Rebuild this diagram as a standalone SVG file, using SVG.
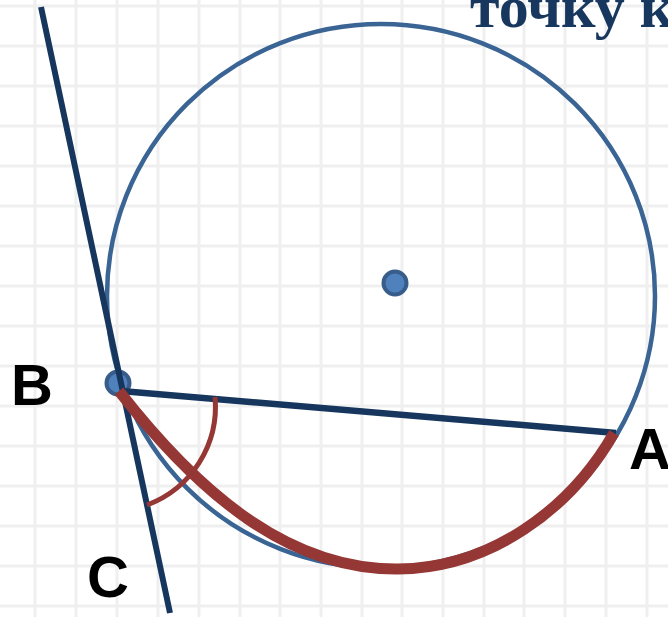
<svg xmlns="http://www.w3.org/2000/svg" width="668" height="617" viewBox="0 0 668 617">
<style>
.grid line{stroke:#efefef;stroke-width:3}
.navy{stroke:#17365d;stroke-linecap:butt;fill:none}
.red{stroke:#953735;fill:none;stroke-linecap:butt}
.lbl{font-family:"Liberation Sans",Arial,sans-serif;font-weight:bold;font-size:58px;fill:#000}
.dot{fill:#4f81bd;stroke:#385d8a;stroke-width:4}
</style>
<rect width="668" height="617" fill="#fff"/>
<g class="grid">
<line x1="35" y1="0" x2="35" y2="617"/><line x1="76" y1="0" x2="76" y2="617"/><line x1="117" y1="0" x2="117" y2="617"/><line x1="158" y1="0" x2="158" y2="617"/><line x1="199" y1="0" x2="199" y2="617"/><line x1="240" y1="0" x2="240" y2="617"/><line x1="280" y1="0" x2="280" y2="617"/><line x1="321" y1="0" x2="321" y2="617"/><line x1="362" y1="0" x2="362" y2="617"/><line x1="402" y1="0" x2="402" y2="617"/><line x1="443" y1="0" x2="443" y2="617"/><line x1="484" y1="0" x2="484" y2="617"/><line x1="524" y1="0" x2="524" y2="617"/><line x1="565" y1="0" x2="565" y2="617"/><line x1="606" y1="0" x2="606" y2="617"/><line x1="647" y1="0" x2="647" y2="617"/>
<line x1="0" y1="6" x2="668" y2="6"/><line x1="0" y1="46" x2="668" y2="46"/><line x1="0" y1="86" x2="668" y2="86"/><line x1="0" y1="126" x2="668" y2="126"/><line x1="0" y1="166" x2="668" y2="166"/><line x1="0" y1="206" x2="668" y2="206"/><line x1="0" y1="246" x2="668" y2="246"/><line x1="0" y1="286" x2="668" y2="286"/><line x1="0" y1="326" x2="668" y2="326"/><line x1="0" y1="366" x2="668" y2="366"/><line x1="0" y1="406" x2="668" y2="406"/><line x1="0" y1="446" x2="668" y2="446"/><line x1="0" y1="486" x2="668" y2="486"/><line x1="0" y1="526" x2="668" y2="526"/><line x1="0" y1="566" x2="668" y2="566"/><line x1="0" y1="606" x2="668" y2="606"/>
</g>
<text x="470" y="27" font-family="'Liberation Serif','Times New Roman',serif" font-weight="bold" font-size="60" fill="#17375e">точку к</text>
<g id="circle">
<ellipse cx="381" cy="296" rx="274" ry="272" fill="none" stroke="#3a6494" stroke-width="4.5"/>
</g>
<g id="center"><circle class="dot" cx="395" cy="283" r="11.5"/></g>
<g id="pointB"><circle class="dot" cx="118" cy="383" r="11.5"/></g>
<g id="connectors">
<line class="navy" x1="41" y1="7" x2="170" y2="613" stroke-width="6"/>
<line class="navy" x1="121" y1="391" x2="616" y2="433" stroke-width="6.5"/>
<path class="red" d="M119,391 C200,495 290,570 398,569 C490,568 570,510 614,433" stroke-width="11"/>
<path class="red" d="M215,397 A105,105 0 0 1 147,505" stroke-width="5"/>
</g>
<g id="labelB"><text class="lbl" x="11" y="405">B</text></g>
<g id="labelA"><text class="lbl" x="629" y="469">A</text></g>
<g id="labelC"><text class="lbl" x="87" y="597">C</text></g>
</svg>
